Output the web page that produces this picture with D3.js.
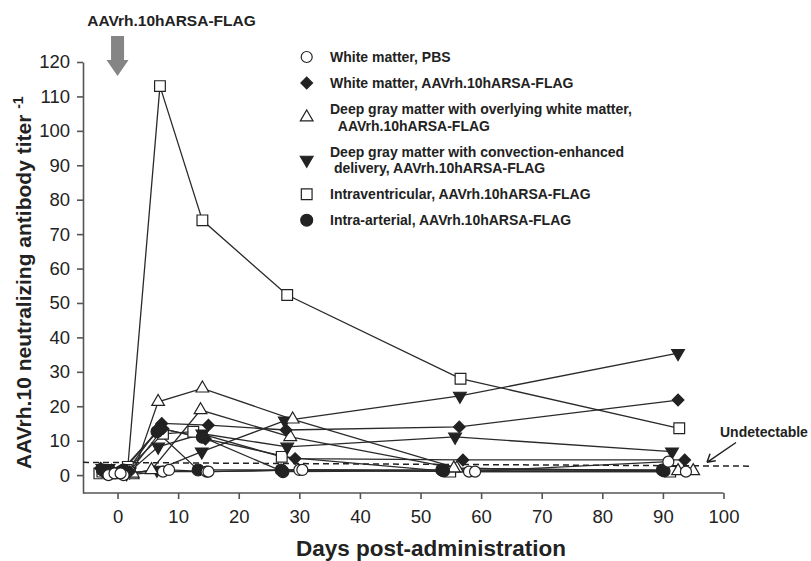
<!DOCTYPE html>
<html>
<head>
<meta charset="utf-8">
<script src="https://cdn.jsdelivr.net/npm/d3@7"></script>
<style>
  body { margin: 0; background: #fff; }
  svg { display: block; font-family: "Liberation Sans", Arial, sans-serif; }
</style>
</head>
<body>
<div id="chart"></div>
<script>
'use strict';

// tick labels
const xTicks = [0, 10, 20, 30, 40, 50, 60, 70, 80, 90, 100];
const yTicks = [0, 10, 20, 30, 40, 50, 60, 70, 80, 90, 100, 110, 120];

// legend categories
const groups = ['pbs', 'wm', 'dgm', 'ced', 'ivt', 'ia'];
const legendLabels = [
    ['White matter, PBS'],
    ['White matter, AAVrh.10hARSA-FLAG'],
    ['Deep gray matter with overlying white matter,', '\u00a0\u00a0AAVrh.10hARSA-FLAG'],
    ['Deep gray matter with convection-enhanced', '\u00a0delivery, AAVrh.10hARSA-FLAG'],
    ['Intraventricular, AAVrh.10hARSA-FLAG'],
    ['Intra-arterial, AAVrh.10hARSA-FLAG']
];

// one array per animal: [day, titer]
const pbsA = [[-1.5, 0], [1, 0], [7.5, 1], [14.7, 1], [30, 1.5], [58, 1], [90.9, 3.9]];
const pbsB = [[-0.5, 0.5], [0.5, 0.5], [8.5, 1.5], [15, 1], [30.5, 1.5], [59, 1], [93.8, 1]];
const wmA = [[-2.8, 2], [1.5, 1], [7.3, 15], [15, 14.5], [27.8, 13.1], [56.4, 14], [92.5, 21.8]];
const wmB = [[-1, 1.5], [2, 1], [7.5, 13.5], [14.5, 10.5], [29.3, 4.8], [57, 4.4], [93.6, 4.4]];
const dgmA = [[-1.5, 0.5], [2.5, 0], [6.7, 21.3], [14, 25.2], [28.9, 16.2], [56, 2], [92.5, 1.2]];
const dgmB = [[-1, 0], [2.5, 0.5], [5.6, 1.5], [13.7, 18.9], [28.5, 11.1], [55.5, 2], [95, 1.2]];
const cedA = [[-2.5, 2], [1.5, 0.5], [6.5, 1.5], [13.9, 6.8], [27.6, 15.8], [56.5, 23], [92.5, 35.4]];
const cedB = [[-1.5, 2], [2, 1], [6.7, 8.2], [14, 12], [28, 8.2], [55.7, 11.1], [91.5, 6.8]];
const ivtA = [[-3, 0.5], [1.7, 2.4], [7, 113], [14, 74], [28, 52.3], [56.6, 28], [92.7, 13.6]];
const ivtB = [[-2.5, 1], [1.5, 1.5], [7.5, 12], [12.5, 12.6], [27.1, 5.3], [54.9, 1], [91.2, 1]];
const iaA = [[-2.5, 1.5], [0.5, 1], [6.5, 12.6], [13.3, 1.5], [27, 1.5], [53.5, 1.5], [89.9, 1.5]];
const iaB = [[-2, 1], [1, 1.5], [7, 13.5], [14, 11], [27.3, 1], [53.8, 1.2], [90.2, 1.2]];

// detection limit line, [day, titer]
const undetectable = [[-5.7, 3.7], [104.5, 2.6]];

const animals = [
    { group: 'ivt', pts: ivtA }, { group: 'ivt', pts: ivtB },
    { group: 'ced', pts: cedA }, { group: 'ced', pts: cedB },
    { group: 'dgm', pts: dgmA }, { group: 'dgm', pts: dgmB },
    { group: 'wm', pts: wmA }, { group: 'wm', pts: wmB },
    { group: 'ia', pts: iaA }, { group: 'ia', pts: iaB },
    { group: 'pbs', pts: pbsA }, { group: 'pbs', pts: pbsB }
];

const W = 811, H = 561;
const ink = '#222';

const svg = d3.select('#chart').append('svg')
    .attr('width', W)
    .attr('height', H);

const x = d3.scaleLinear().domain([-5.7, 100]).range([83, 723.5]);
const y = d3.scaleLinear().domain([-5.2, 120]).range([493, 62]);

// marker shapes
const marker = {
    pbs: { type: d3.symbolCircle, size: 95, rot: 0, fill: '#fff' },
    wm: { type: d3.symbolSquare, size: 68, rot: 45, fill: ink },
    dgm: { type: d3.symbolTriangle, size: 70, rot: 0, fill: '#fff' },
    ced: { type: d3.symbolTriangle, size: 70, rot: 180, fill: ink },
    ivt: { type: d3.symbolSquare, size: 115, rot: 0, fill: '#fff' },
    ia: { type: d3.symbolCircle, size: 110, rot: 0, fill: ink }
};

function drawMarker(sel, g) {
    const m = marker[g];
    sel.attr('d', d3.symbol().type(m.type).size(m.size)())
        .attr('fill', m.fill)
        .attr('stroke', ink)
        .attr('stroke-width', 1.2);
}

// axes
const axisStyle = g => {
    g.select('.domain').attr('stroke', '#555').attr('stroke-width', 1.6);
    g.selectAll('.tick line').attr('stroke', '#555').attr('stroke-width', 1.6);
    g.selectAll('.tick text').attr('fill', ink).style('font-size', '18.5px');
};

svg.append('g')
    .attr('transform', `translate(0, ${y.range()[0]})`)
    .call(d3.axisBottom(x).tickValues(xTicks).tickSize(6).tickSizeOuter(0).tickPadding(11))
    .call(axisStyle)
    .call(g => g.select('.domain').attr('d', `M${x.range()[0]},0H${x(100)}`));

svg.append('g')
    .attr('transform', `translate(${x.range()[0]}, 0)`)
    .call(d3.axisLeft(y).tickValues(yTicks).tickSize(6).tickSizeOuter(0).tickPadding(7))
    .call(axisStyle);

// detection limit
const line = d3.line().x(d => x(d[0])).y(d => y(d[1]));

svg.append('path')
    .attr('d', line(undetectable))
    .attr('fill', 'none')
    .attr('stroke', ink)
    .attr('stroke-width', 1.5)
    .attr('stroke-dasharray', '6,4');

// animal lines
svg.append('g').selectAll('path')
    .data(animals)
  .enter().append('path')
    .attr('d', d => line(d.pts))
    .attr('fill', 'none')
    .attr('stroke', '#2a2a2a')
    .attr('stroke-width', 1.3);

// markers
animals.forEach(a => {
    svg.append('g').selectAll('path')
        .data(a.pts)
      .enter().append('path')
        .attr('transform', d => `translate(${x(d[0])}, ${y(d[1])}) rotate(${marker[a.group].rot})`)
        .call(drawMarker, a.group);
});

// dosing arrow and label
const ax = x(0);
svg.append('path')
    .attr('d', `M${ax - 6.5},36V60H${ax - 11}L${ax},76L${ax + 11},60H${ax + 6.5}V36Z`)
    .attr('fill', '#858585');

svg.append('text')
    .attr('x', 171.5)
    .attr('y', 26)
    .attr('text-anchor', 'middle')
    .attr('fill', ink)
    .style('font-size', '15.5px')
    .style('font-weight', 'bold')
    .text('AAVrh.10hARSA-FLAG');

// Undetectable annotation
svg.append('text')
    .attr('x', 720)
    .attr('y', 437)
    .attr('fill', ink)
    .style('font-size', '14px')
    .style('font-weight', 'bold')
    .text('Undetectable');

svg.append('path')
    .attr('d', 'M736,442.5L707,462.3M707,462.3l3,-8.5M707,462.3l8.8,-1.6')
    .attr('fill', 'none')
    .attr('stroke', ink)
    .attr('stroke-width', 1.5);

// axis titles
svg.append('text')
    .attr('x', 431)
    .attr('y', 555.5)
    .attr('text-anchor', 'middle')
    .attr('fill', ink)
    .style('font-size', '22.5px')
    .style('font-weight', 'bold')
    .text('Days post-administration');

const yTitle = svg.append('text')
    .attr('transform', 'translate(31, 469) rotate(-90)')
    .attr('fill', ink)
    .style('font-size', '21px')
    .style('font-weight', 'bold');
yTitle.append('tspan').text('AAVrh.10 neutralizing antibody titer ');
yTitle.append('tspan').attr('dy', -8).style('font-size', '14px').text('-1');

// legend
const legend = svg.append('g').attr('class', 'legend');
let ly = 62;
legendLabels.forEach((lines, i) => {
    const g = groups[i];
    const top = ly;
    lines.forEach((t, j) => {
        legend.append('text')
            .attr('x', 330)
            .attr('y', ly)
            .attr('fill', ink)
            .style('font-size', '14px')
            .style('font-weight', 'bold')
            .text(t);
        if (j < lines.length - 1) ly += 16.6;
    });
    const cy = (top + ly) / 2 - 5;
    legend.append('path')
        .attr('transform', `translate(306.7, ${cy}) rotate(${marker[g].rot})`)
        .call(drawMarker, g);
    ly += 26;
});
</script>
</body>
</html>
